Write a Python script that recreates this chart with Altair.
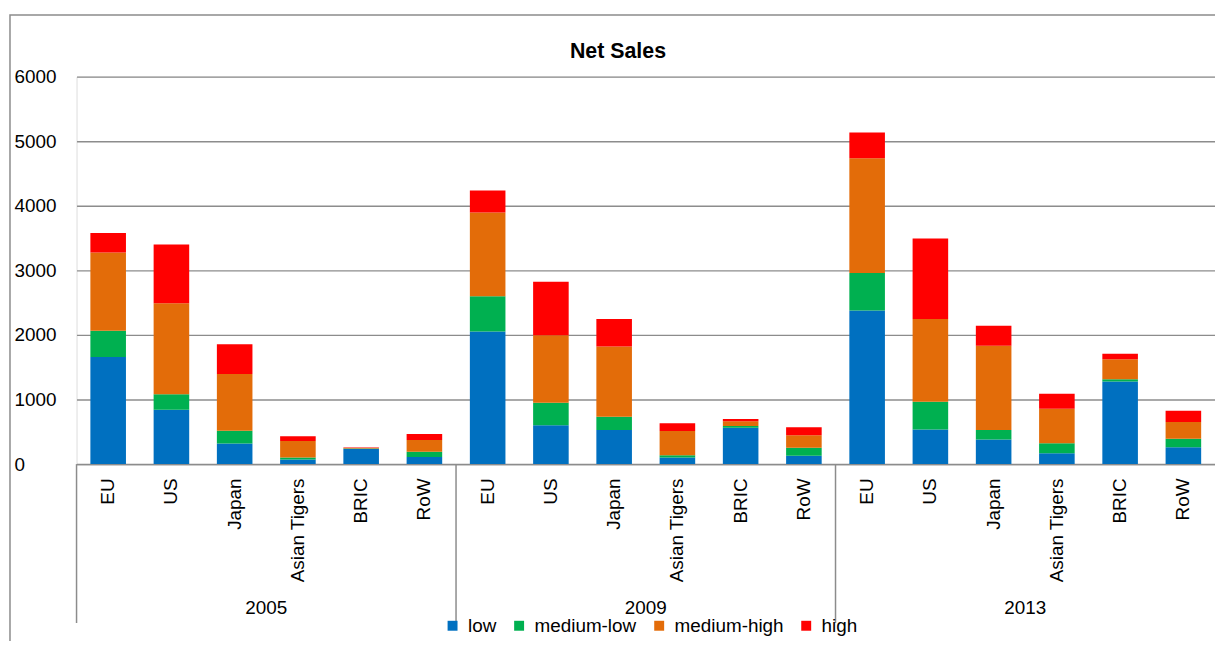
import altair as alt
import pandas as pd

# ---- data ----
regions = ["EU", "US", "Japan", "Asian Tigers", "BRIC", "RoW"]
years = ["2005", "2009", "2013"]
series = ["low", "medium-low", "medium-high", "high"]
colors = ["#0070C0", "#00B050", "#E36C09", "#FF0000"]

low = [1657, 842, 318, 71, 235, 111,
       2055, 600, 528, 102, 563, 128,
       2380, 534, 380, 169, 1277, 260]
medium_low = [409, 240, 200, 31, 5, 78,
              545, 348, 204, 36, 26, 123,
              578, 431, 148, 154, 37, 131]
medium_high = [1211, 1410, 877, 256, 10, 185,
               1297, 1046, 1088, 374, 73, 195,
               1780, 1281, 1303, 534, 308, 261]
high = [303, 908, 462, 73, 6, 92,
        338, 831, 426, 119, 35, 123,
        396, 1246, 312, 231, 86, 174]

y_ticks = [0, 1000, 2000, 3000, 4000, 5000, 6000]
chart_title = ["Net Sales"]

# ---- build tables ----
keys = [f"{y}|{r}" for y in years for r in regions]
rows = []
for s_idx, (name, vals) in enumerate(zip(series, [low, medium_low, medium_high, high])):
    for k, v in zip(keys, vals):
        rows.append({"key": k, "series": name, "idx": s_idx, "value": v})
df = pd.DataFrame(rows)

df_year = pd.DataFrame({"year": years, "key": [f"{y}|{regions[2]}" for y in years]})
df_sep = pd.DataFrame({"key": [f"{y}|{regions[0]}" for y in years]})
df_title = pd.DataFrame({"t": chart_title})
df_frame = pd.DataFrame({"a": [0]})

W, H = 1146, 390
FONT = "Liberation Sans"
GRID = "#8c8c8c"

xscale = alt.Scale(domain=keys, paddingInner=0, paddingOuter=0)

bars = alt.Chart(df).mark_bar(width=alt.RelativeBandSize(0.5625)).encode(
    x=alt.X("key:N", scale=xscale, title=None,
            axis=alt.Axis(labelExpr="split(datum.label, '|')[1]", labelAngle=-90,
                          labelFont=FONT, labelFontSize=19, labelColor="#000000",
                          labelPadding=14, ticks=False, tickSize=0, domain=True,
                          domainColor=GRID, domainWidth=1.5, grid=False)),
    y=alt.Y("value:Q", stack="zero", title=None,
            scale=alt.Scale(domain=[0, 6000], nice=False),
            axis=alt.Axis(values=y_ticks, format="d", labelAlign="left", labelPadding=63,
                          labelFont=FONT, labelFontSize=19, labelColor="#000000",
                          ticks=False, tickSize=0, domain=False, grid=True,
                          gridColor=GRID, gridWidth=1.4)),
    color=alt.Color("series:N", scale=alt.Scale(domain=series, range=colors),
                    legend=alt.Legend(title=None, orient="none", legendX=369, legendY=543,
                                      direction="horizontal", columns=4, symbolType="square",
                                      symbolSize=100, symbolStrokeWidth=0, labelOffset=6,
                                      columnPadding=13, labelFont=FONT, labelFontSize=19,
                                      labelColor="#000000", padding=0)),
    order=alt.Order("idx:Q", sort="ascending"),
)

frame = alt.Chart(df_frame).mark_rect(fillOpacity=0, stroke=GRID, strokeWidth=1.5).encode(
    x=alt.value(-67), x2=alt.value(W + 200), y=alt.value(-62), y2=alt.value(H + 300)
)

seps = alt.Chart(df_sep).mark_rule(color=GRID, strokeWidth=1.5).encode(
    x=alt.X("key:N", scale=xscale, bandPosition=0, title=None),
    y=alt.value(H), y2=alt.value(H + 160)
)

year_text = alt.Chart(df_year).mark_text(font=FONT, fontSize=19, color="#000000",
                                         baseline="middle", align="center").encode(
    x=alt.X("key:N", scale=xscale, bandPosition=1, title=None),
    y=alt.value(535),
    text="year:N"
)

title_text = alt.Chart(df_title).mark_text(font=FONT, fontSize=21.5, fontWeight="bold",
                                           color="#000000", baseline="middle",
                                           align="center").encode(
    x=alt.value(545), y=alt.value(-25), text="t:N"
)

chart = alt.layer(frame, bars, seps, year_text, title_text).properties(
    width=W, height=H,
    autosize=alt.AutoSizeParams(type="none"),
    padding={"left": 69, "top": 67, "right": 0, "bottom": 176},
).configure_view(stroke=None).configure(background="#ffffff")

chart.save("out.html", embed_options={"renderer": "svg", "actions": False})
